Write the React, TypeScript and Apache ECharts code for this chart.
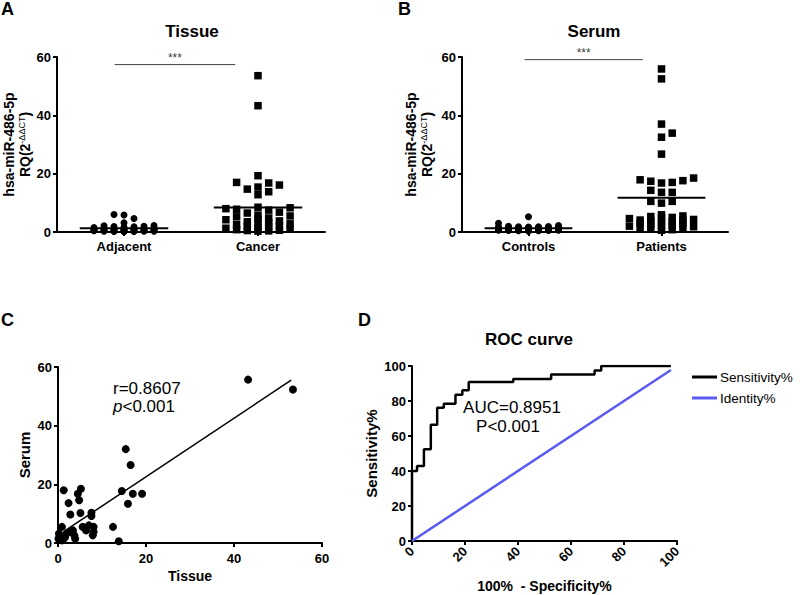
import React, { useEffect, useRef } from 'react';
import * as echarts from 'echarts';

const FONT = 'Liberation Sans, Arial, sans-serif';

// Panel A – tissue
const tissueCategories = ['Adjacent', 'Cancer'];
const tissueAdjacent = [6.0, 5.8, 4.6, 3.2, 1.6, 1.5, 1.4, 2.2, 2.1, 2.0, 1.9, 1.8, 1.2, 1.1, 1.0, 1.0, 0.9, 0.9, 0.8, 0.8, 0.7, 0.7, 0.7, 0.6, 0.6, 0.6, 0.5, 0.5, 0.5, 0.4, 0.4, 0.4, 0.3, 0.3, 0.3, 0.2, 0.2, 0.1];
const tissueCancer = [53.6, 43.3, 19.3, 17.0, 16.8, 16.1, 15.4, 14.7, 13.8, 12.8, 8.5, 8.3, 8.0, 7.8, 7.5, 6.8, 6.5, 5.8, 5.5, 5.2, 4.8, 4.5, 4.2, 3.8, 3.5, 3.2, 3.0, 2.8, 2.5, 2.2, 2.0, 1.8, 1.5, 1.3, 1.0, 0.8, 0.6, 0.5, 0.4, 0.3];
const sigTissueX = [-0.07, 0.83];
const sigTissueY = 57.4;

// Panel B – serum
const serumCategories = ['Controls', 'Patients'];
const serumControls = [5.2, 3.0, 2.2, 2.0, 1.9, 1.8, 1.8, 1.7, 1.7, 1.6, 1.6, 1.5, 1.5, 1.4, 1.4, 1.3, 1.3, 1.2, 1.2, 1.1, 1.1, 1.0, 1.0, 0.9, 0.9, 0.8, 0.8, 0.7, 0.7, 0.6, 0.6, 0.5, 0.5, 0.4, 0.4, 0.3];
const serumPatients = [55.9, 52.5, 37.0, 33.9, 32.5, 26.7, 18.5, 17.9, 17.6, 17.4, 17.0, 16.8, 14.3, 13.6, 13.6, 10.5, 10.5, 9.9, 5.9, 5.5, 5.3, 5.0, 4.8, 4.6, 4.3, 4.1, 3.9, 3.7, 3.5, 3.3, 3.1, 2.9, 2.7, 2.4, 2.2, 2.0, 1.8, 1.5, 1.3, 1.0, 0.8, 0.6];
const sigSerumX = [-0.03, 0.86];
const sigSerumY = 59.1;

// Panel C – correlation
const corrTissue = [43.2, 53.4, 15.4, 16.5, 14.5, 17.0, 19.1, 15.9, 12.5, 13.8, 1.3, 4.5, 5.2, 2.4, 4.8, 5.1, 2.8, 7.6, 7.6, 0.9, 5.6, 7.0, 8.1, 7.9, 6.4, 2.8, 3.7, 3.4, 1.9, 0.5, 0.1, 0.9, 1.6, 0.2, 1.3, 3.9, 8.1];
const corrSerum = [55.7, 52.3, 32.0, 26.6, 17.7, 16.8, 16.8, 13.4, 5.5, 0.6, 18.0, 16.8, 18.5, 13.6, 14.6, 10.2, 9.7, 10.3, 9.2, 5.5, 5.5, 6.0, 5.5, 2.6, 4.3, 3.8, 2.6, 4.3, 3.2, 2.6, 1.5, 0.9, 2.0, 3.2, 1.5, 1.5, 3.8];
const fitTissue = [1.7, 53.0];
const fitSerum = [4.3, 55.5];

// Panel D – ROC
const rocFpr = [0, 0, 1.9, 4.5, 7.1, 9.5, 12.0, 16.4, 19.0, 21.4, 38.2, 52.5, 68.9, 71.4, 97.7];
const rocSens = [0, 40.0, 42.9, 52.4, 66.5, 76.2, 78.5, 83.6, 86.1, 90.9, 92.6, 95.2, 97.5, 100, 100];
const identityEnd = [0, 97.7];

// Layout
const gridA = { left: 57, top: 57, width: 268, height: 175 };
const gridB = { left: 462, top: 57, width: 266, height: 175 };
const gridC = { left: 58, top: 367, width: 264, height: 176 };
const gridD = { left: 412, top: 366, width: 265, height: 175 };

function swarm(values: number[], center: number, pxPerY: number, pxPerX: number, step: number, size: number, maxK: number): number[][] {
  const placed: { dx: number; py: number }[] = [];
  const order = values.map((_, i) => i).sort((a, b) => values[a] - values[b]);
  const out: number[][] = new Array(values.length);
  const cands: number[] = [0];
  for (let k = 1; k <= maxK; k++) cands.push(k, -k);
  for (const i of order) {
    const py = values[i] * pxPerY;
    let best = 0;
    let bestC = Infinity;
    for (const k of cands) {
      const dx = k * step;
      let c = 0;
      for (const p of placed) if (Math.abs(p.dx - dx) < step * 0.9 && Math.abs(p.py - py) < size) c++;
      if (c < bestC) {
        bestC = c;
        best = dx;
        if (c === 0) break;
      }
    }
    placed.push({ dx: best, py });
    out[i] = [center + best / pxPerX, values[i]];
  }
  return out;
}

const mean = (a: number[]) => a.reduce((s, v) => s + v, 0) / a.length;

const axisLineStyle = { show: true, onZero: false, lineStyle: { color: '#000', width: 2 } };
const axisTickStyle = { show: true, length: 4, lineStyle: { color: '#000', width: 2 } };
const labelStyle = { color: '#000', fontWeight: 'bold' as const, fontSize: 13, fontFamily: FONT };

const yNameRich = {
  rich: {
    b: { fontSize: 14, fontWeight: 'bold', fontFamily: FONT, color: '#000', lineHeight: 16 },
    s: { fontSize: 9, fontFamily: FONT, color: '#000', lineHeight: 8, verticalAlign: 'top' },
  },
};

export default function App() {
  const ref = useRef<HTMLDivElement>(null);
  useEffect(() => {
    if (!ref.current) return;
    const chart = echarts.init(ref.current, undefined, { renderer: 'svg' });
    const pyA = gridA.height / 60;
    const pxA = gridA.width / 2;
    const pyB = gridB.height / 60;
    const pxB = gridB.width / 2;
    const adjPts = swarm(tissueAdjacent, 0, pyA, pxA, 10, 7, 3);
    const canPts = swarm(tissueCancer, 1, pyA, pxA, 10.7, 7.5, 3);
    const ctlPts = swarm(serumControls, 0, pyB, pxB, 10, 7, 3);
    const patPts = swarm(serumPatients, 1, pyB, pxB, 10.7, 7.5, 3);
    const half = 0.33;
    const meanLine = (c: number, vals: number[]) => [[c - half, mean(vals)], [c + half, mean(vals)]];

    const catX = (gi: number, data: string[]) => ({
      type: 'category', gridIndex: gi, data, boundaryGap: true,
      axisLine: axisLineStyle, axisTick: { ...axisTickStyle, alignWithLabel: true },
      axisLabel: { ...labelStyle, margin: 8 }, splitLine: { show: false },
    });
    const hidX = (gi: number) => ({ type: 'value', gridIndex: gi, min: -0.5, max: 1.5, show: false, axisLine: { show: false, onZero: false } });
    const valY = (gi: number, max: number, interval: number, extra: any) => ({
      type: 'value', gridIndex: gi, min: 0, max, interval,
      axisLine: axisLineStyle, axisTick: axisTickStyle,
      axisLabel: { ...labelStyle, margin: 6 }, splitLine: { show: false }, ...extra,
    });

    const scatterBase = { type: 'scatter', itemStyle: { color: '#000', opacity: 1 }, silent: true };
    const lineBase = { type: 'line', symbol: 'none', silent: true };

    chart.setOption({
      animation: false,
      backgroundColor: '#fff',
      grid: [gridA, gridB, gridC, gridD].map((g) => ({ ...g, containLabel: false })),
      xAxis: [
        catX(0, tissueCategories),
        hidX(0),
        catX(1, serumCategories),
        hidX(1),
        {
          type: 'value', gridIndex: 2, min: 0, max: 60, interval: 20,
          axisLine: axisLineStyle, axisTick: axisTickStyle, axisLabel: { ...labelStyle, margin: 9 }, splitLine: { show: false },
          name: 'Tissue', nameLocation: 'middle', nameGap: 26,
          nameTextStyle: { fontSize: 14, fontWeight: 'bold', fontFamily: FONT, color: '#000' },
        },
        {
          type: 'value', gridIndex: 3, min: 0, max: 100, interval: 20,
          axisLine: axisLineStyle, axisTick: axisTickStyle, axisLabel: { ...labelStyle, margin: 8, rotate: 45 }, splitLine: { show: false },
          name: '100%  - Specificity%', nameLocation: 'middle', nameGap: 38,
          nameTextStyle: { fontSize: 14, fontWeight: 'bold', fontFamily: FONT, color: '#000' },
        },
      ],
      yAxis: [
        valY(0, 60, 20, { name: '{b|hsa-miR-486-5p}\n{b|RQ(2}{s|-ΔΔCT}{b|)}', nameLocation: 'middle', nameGap: 24, nameTextStyle: yNameRich }),
        valY(1, 60, 20, { name: '{b|hsa-miR-486-5p}\n{b|RQ(2}{s|-ΔΔCT}{b|)}', nameLocation: 'middle', nameGap: 27, nameTextStyle: yNameRich }),
        valY(2, 60, 20, { name: 'Serum', nameLocation: 'middle', nameGap: 26, nameTextStyle: { fontSize: 15, fontWeight: 'bold', fontFamily: FONT, color: '#000' } }),
        valY(3, 100, 20, { name: 'Sensitivity%', nameLocation: 'middle', nameGap: 33, nameTextStyle: { fontSize: 15, fontWeight: 'bold', fontFamily: FONT, color: '#000' } }),
      ],
      legend: {
        data: ['Sensitivity%', 'Identity%'], orient: 'vertical', left: 692, top: 370, padding: 0,
        itemWidth: 25, itemHeight: 3, icon: 'rect', itemGap: 7,
        textStyle: { fontSize: 13.5, color: '#000', fontFamily: FONT, padding: [0, 0, 0, -2] },
      },
      series: [
        // A
        { ...scatterBase, xAxisIndex: 1, yAxisIndex: 0, symbol: 'circle', symbolSize: 7, data: adjPts },
        { ...scatterBase, xAxisIndex: 1, yAxisIndex: 0, symbol: 'rect', symbolSize: 7.5, data: canPts },
        { ...lineBase, xAxisIndex: 1, yAxisIndex: 0, data: meanLine(0, tissueAdjacent), lineStyle: { color: '#000', width: 2 } },
        { ...lineBase, xAxisIndex: 1, yAxisIndex: 0, data: meanLine(1, tissueCancer), lineStyle: { color: '#000', width: 2 } },
        { ...lineBase, xAxisIndex: 1, yAxisIndex: 0, data: sigTissueX.map((x) => [x, sigTissueY]), lineStyle: { color: '#444', width: 1 } },
        {
          type: 'scatter', xAxisIndex: 1, yAxisIndex: 0, symbolSize: 1, itemStyle: { color: 'transparent' }, silent: true,
          data: [[(sigTissueX[0] + sigTissueX[1]) / 2, sigTissueY]],
          label: { show: true, formatter: '***', position: 'top', distance: 0, fontSize: 12, color: '#000', fontFamily: FONT },
        },
        // B
        { ...scatterBase, xAxisIndex: 3, yAxisIndex: 1, symbol: 'circle', symbolSize: 7, data: ctlPts },
        { ...scatterBase, xAxisIndex: 3, yAxisIndex: 1, symbol: 'rect', symbolSize: 7.5, data: patPts },
        { ...lineBase, xAxisIndex: 3, yAxisIndex: 1, data: meanLine(0, serumControls), lineStyle: { color: '#000', width: 2 } },
        { ...lineBase, xAxisIndex: 3, yAxisIndex: 1, data: meanLine(1, serumPatients), lineStyle: { color: '#000', width: 2 } },
        { ...lineBase, xAxisIndex: 3, yAxisIndex: 1, data: sigSerumX.map((x) => [x, sigSerumY]), lineStyle: { color: '#444', width: 1 } },
        {
          type: 'scatter', xAxisIndex: 3, yAxisIndex: 1, symbolSize: 1, itemStyle: { color: 'transparent' }, silent: true,
          data: [[(sigSerumX[0] + sigSerumX[1]) / 2, sigSerumY]],
          label: { show: true, formatter: '***', position: 'top', distance: 0, fontSize: 12, color: '#000', fontFamily: FONT },
        },
        // C
        { ...scatterBase, xAxisIndex: 4, yAxisIndex: 2, symbol: 'circle', symbolSize: 8, data: corrTissue.map((t, i) => [t, corrSerum[i]]) },
        { ...lineBase, xAxisIndex: 4, yAxisIndex: 2, data: fitTissue.map((t, i) => [t, fitSerum[i]]), lineStyle: { color: '#000', width: 1.5 } },
        // D
        {
          ...lineBase, name: 'Sensitivity%', xAxisIndex: 5, yAxisIndex: 3, step: 'end',
          data: rocFpr.map((x, i) => [x, rocSens[i]]), itemStyle: { color: '#000' }, lineStyle: { color: '#000', width: 2.5 },
        },
        {
          ...lineBase, name: 'Identity%', xAxisIndex: 5, yAxisIndex: 3,
          data: identityEnd.map((v) => [v, v]), itemStyle: { color: '#5a5af2' }, lineStyle: { color: '#5a5af2', width: 2.5 },
        },
      ],
      graphic: [
        { type: 'text', x: 1, y: 9, style: { text: 'A', font: `bold 18px ${FONT}`, fill: '#000', align: 'left', verticalAlign: 'middle' } },
        { type: 'text', x: 398, y: 9, style: { text: 'B', font: `bold 18px ${FONT}`, fill: '#000', align: 'left', verticalAlign: 'middle' } },
        { type: 'text', x: 1, y: 320, style: { text: 'C', font: `bold 18px ${FONT}`, fill: '#000', align: 'left', verticalAlign: 'middle' } },
        { type: 'text', x: 358, y: 320, style: { text: 'D', font: `bold 18px ${FONT}`, fill: '#000', align: 'left', verticalAlign: 'middle' } },
        { type: 'text', x: 192, y: 31, style: { text: 'Tissue', font: `bold 17px ${FONT}`, fill: '#000', align: 'center', verticalAlign: 'middle' } },
        { type: 'text', x: 594, y: 31, style: { text: 'Serum', font: `bold 17px ${FONT}`, fill: '#000', align: 'center', verticalAlign: 'middle' } },
        { type: 'text', x: 529, y: 339, style: { text: 'ROC curve', font: `bold 17px ${FONT}`, fill: '#000', align: 'center', verticalAlign: 'middle' } },
        { type: 'text', x: 113, y: 388, style: { text: 'r=0.8607', font: `17px ${FONT}`, fill: '#000', align: 'left', verticalAlign: 'middle' } },
        {
          type: 'text', x: 113, y: 406,
          style: {
            text: '{i|p}{n|<0.001}', fill: '#000', align: 'left', verticalAlign: 'middle',
            rich: { i: { fontStyle: 'italic', fontSize: 17, fontFamily: FONT }, n: { fontSize: 17, fontFamily: FONT } },
          },
        },
        { type: 'text', x: 512, y: 407, style: { text: 'AUC=0.8951', font: `17px ${FONT}`, fill: '#000', align: 'center', verticalAlign: 'middle' } },
        { type: 'text', x: 508, y: 426, style: { text: 'P<0.001', font: `17px ${FONT}`, fill: '#000', align: 'center', verticalAlign: 'middle' } },
      ],
    });
    return () => chart.dispose();
  }, []);
  return <div ref={ref} style={{ position: 'fixed', left: 0, top: 0, width: 800, height: 595 }} />;
}
